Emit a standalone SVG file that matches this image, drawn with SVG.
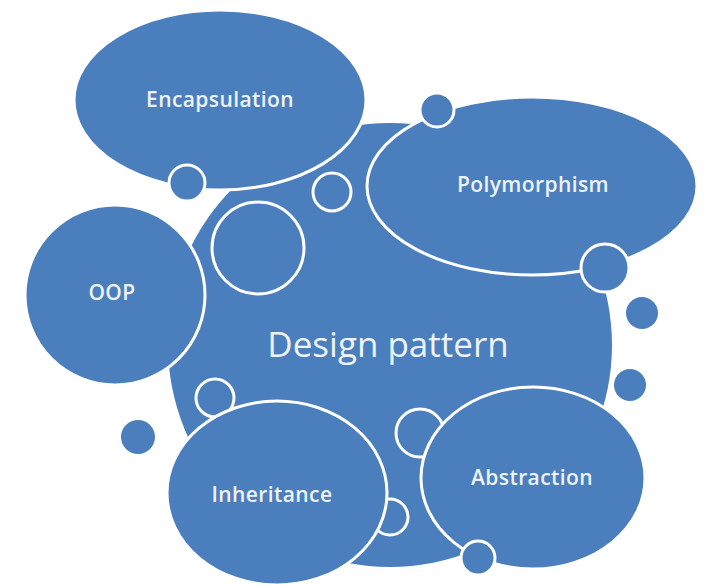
<svg xmlns="http://www.w3.org/2000/svg" width="711" height="587" viewBox="0 0 711 587">
  <style>
    .shape { fill: #4a7ebd; stroke: #ffffff; stroke-width: 3; }
    .ring { fill: none; stroke: #ffffff; stroke-width: 3; }
    .dot { fill: #4a7ebd; }
    .label { fill: #eef3fb; font-family: "Open Sans", "Liberation Sans", sans-serif; text-anchor: middle; font-size: 21px; font-weight: 600; letter-spacing: 0.4px; }
    .title { font-size: 35px; font-weight: 400; letter-spacing: 0; }
  </style>
  <rect width="711" height="587" fill="#ffffff"/>

  <g id="design-pattern">
    <circle class="dot" cx="390" cy="345" r="222"/>
    <text class="label title" x="388" y="357">Design pattern</text>
  </g>

  <g id="bubbles">
    <circle class="ring" cx="258" cy="248" r="46"/>
    <circle class="ring" cx="332" cy="192" r="19"/>
    <circle class="ring" cx="215" cy="398" r="19"/>
    <circle class="ring" cx="390" cy="517" r="18"/>
    <circle class="ring" cx="420" cy="433" r="24"/>
    <circle class="dot" cx="642" cy="313" r="16"/>
    <circle class="dot" cx="630" cy="385" r="16"/>
    <circle class="dot" cx="138" cy="437" r="17"/>
  </g>

  <g id="encapsulation">
    <ellipse class="shape" cx="220" cy="100" rx="146" ry="90"/>
    <text class="label" x="220" y="107">Encapsulation</text>
  </g>
  <circle class="shape" cx="187" cy="183" r="18"/>

  <g id="oop">
    <circle class="shape" cx="115" cy="295" r="90"/>
    <text class="label" x="112" y="300">OOP</text>
  </g>

  <g id="polymorphism">
    <ellipse class="shape" cx="532" cy="186" rx="165" ry="89"/>
    <text class="label" x="533" y="192">Polymorphism</text>
  </g>
  <circle class="shape" cx="437" cy="110" r="17"/>
  <circle class="shape" cx="605" cy="268" r="24"/>

  <g id="inheritance">
    <ellipse class="shape" cx="277" cy="493" rx="110" ry="92"/>
    <text class="label" x="272" y="502">Inheritance</text>
  </g>

  <g id="abstraction">
    <ellipse class="shape" cx="533" cy="478" rx="112" ry="91"/>
    <text class="label" x="532" y="485">Abstraction</text>
  </g>
  <circle class="shape" cx="478" cy="558" r="17"/>
</svg>
